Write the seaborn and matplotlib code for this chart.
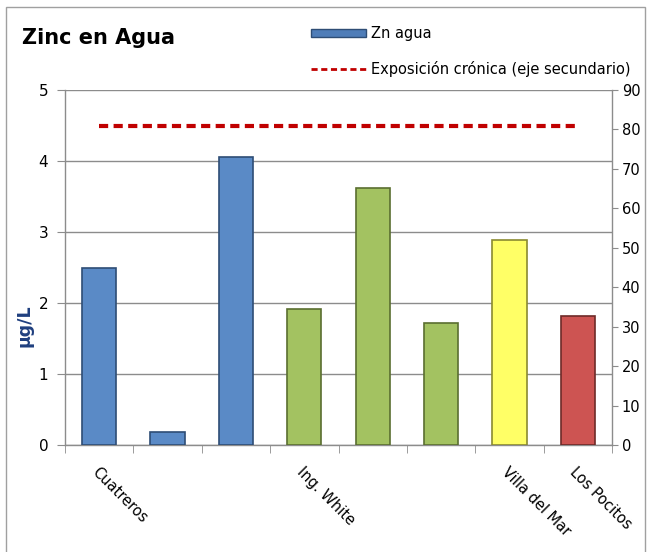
import matplotlib
matplotlib.use("Agg")
import matplotlib.pyplot as plt
import matplotlib.patches as mpatches
from matplotlib.lines import Line2D
import numpy as np
import seaborn as sns

# ---- data ----
station_ids = ["E1", "E2", "E3", "E4", "E5", "E6", "E7", "E8"]
tick_labels = ["Cuatreros", "", "", "Ing. White", "", "", "Villa del Mar", "Los Pocitos"]
zn_agua = [2.5, 0.18, 4.05, 1.92, 3.62, 1.72, 2.89, 1.82]
exposicion_cronica = [81, 81, 81, 81, 81, 81, 81, 81]
bar_colors = ["#5A8AC6", "#5A8AC6", "#5A8AC6", "#A3C261", "#A3C261", "#A3C261", "#FFFF66", "#CD5452"]
edge_colors = ["#2E4D75", "#2E4D75", "#2E4D75", "#5A6E30", "#5A6E30", "#5A6E30", "#8A8A30", "#6E2A28"]

sns.set_style("white")
plt.rcParams["font.family"] = ["DejaVu Sans"]
plt.rcParams["text.color"] = "black"
plt.rcParams["xtick.color"] = "black"
plt.rcParams["ytick.color"] = "black"

fig = plt.figure(figsize=(6.48, 5.52), dpi=100)
ax = fig.add_axes([65/648, 1-445/552, (612-65)/648, (445-90)/552])

sns.barplot(x=station_ids, y=zn_agua, hue=station_ids, palette=bar_colors,
            legend=False, width=0.5, ax=ax, saturation=1, zorder=3)
for p, ec in zip(ax.patches, edge_colors):
    p.set_edgecolor(ec)
    p.set_linewidth(1.2)

ax.set_xlim(-0.5, len(station_ids) - 0.5)
ax.set_ylim(0, 5)
ax.set_yticks(range(0, 6))
ax.yaxis.grid(True, color="#8C8C8C", linewidth=1.0, zorder=0)
ax.set_axisbelow(True)
ax.set_xticks(range(len(station_ids)))
ax.set_xticklabels(tick_labels, rotation=-45, ha="left", va="top",
                   rotation_mode="anchor", fontsize=10.5)
ax.set_xticks(np.arange(-0.5, len(station_ids), 1.0), minor=True)
ax.tick_params(axis="x", which="major", length=0, pad=14, colors="black")
ax.tick_params(axis="x", which="minor", length=6, color="#8C8C8C", direction="out", bottom=True)
ax.tick_params(axis="y", length=6, color="#8C8C8C", labelcolor="black", direction="out",
               left=True, labelsize=11, pad=6)
for side in ["left", "bottom"]:
    ax.spines[side].set_color("#8C8C8C")
    ax.spines[side].set_linewidth(1.0)
ax.spines["top"].set_visible(False)
ax.spines["right"].set_visible(False)
ax.set_xlabel("")
ax.set_ylabel("µg/L", fontsize=12.5, fontweight="bold", color="#1F3F7F")
ax.yaxis.set_label_coords(-0.058, 0.335)

ax2 = ax.twinx()
ax2.plot(range(len(station_ids)), exposicion_cronica, color="#C00000",
         linewidth=3, linestyle=(0, (2.2, 1.3)), zorder=4)
ax2.set_ylim(0, 90)
ax2.set_yticks(range(0, 91, 10))
ax2.tick_params(axis="y", length=4, color="#8C8C8C", labelcolor="black", direction="out",
                right=True, labelsize=10.5, pad=3)
ax2.spines["right"].set_color("#8C8C8C")
ax2.spines["right"].set_linewidth(1.0)
for side in ["top", "left", "bottom"]:
    ax2.spines[side].set_visible(False)
ax2.grid(False)

fig.text(22/648, 1-38/552, "Zinc en Agua", fontsize=15, fontweight="bold", va="center",
         ha="left", color="black")

handles = [mpatches.Patch(facecolor="#4F7DB8", edgecolor="#2E4D75"),
           Line2D([0], [0], color="#C00000", linewidth=2, linestyle=(0, (2.2, 1.3)))]
fig.legend(handles, ["Zn agua", "Exposición crónica (eje secundario)"],
           loc="upper left", bbox_to_anchor=(305/648, 1-20/552), frameon=False,
           fontsize=10.5, handlelength=3.8, handleheight=0.5, handletextpad=0.3,
           labelspacing=1.35, borderaxespad=0, labelcolor="black")

fig.add_artist(mpatches.Rectangle((6/648, -0.05), (645-6)/648, 1-7/552+0.05,
                                  transform=fig.transFigure, fill=False,
                                  edgecolor="#A0A0A0", linewidth=1.0))

fig.savefig("out.png", dpi=100)
